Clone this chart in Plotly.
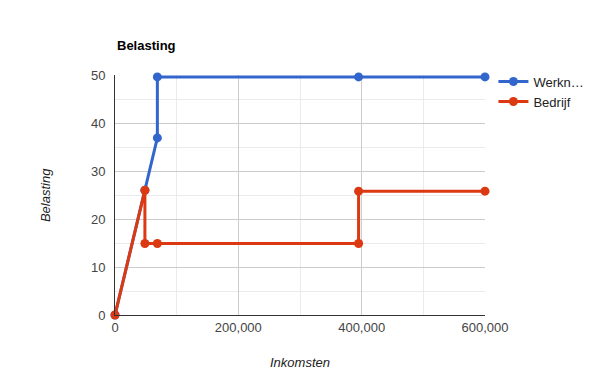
import plotly.graph_objects as go

# Data
werkn_x = [0, 48500, 68700, 68700, 395000, 600000]
werkn_y = [0, 26.0, 36.9, 49.6, 49.6, 49.6]
bedrijf_x = [0, 48500, 48500, 68700, 395000, 395000, 600000]
bedrijf_y = [0, 26.0, 14.9, 14.9, 14.9, 25.8, 25.8]

x_ticks = [0, 200000, 400000, 600000]
x_tick_labels = ["0", "200,000", "400,000", "600,000"]
y_ticks = [0, 10, 20, 30, 40, 50]

FONT = "Arial, Liberation Sans, sans-serif"
BLUE = "#3366cc"
RED = "#dc3912"

fig = go.Figure()
fig.add_trace(go.Scatter(x=werkn_x, y=werkn_y, mode="lines+markers", name="Werkn…",
                         line=dict(color=BLUE, width=3), marker=dict(color=BLUE, size=9),
                         cliponaxis=False))
fig.add_trace(go.Scatter(x=bedrijf_x, y=bedrijf_y, mode="lines+markers", name="Bedrijf",
                         line=dict(color=RED, width=3), marker=dict(color=RED, size=9),
                         cliponaxis=False))

fig.update_layout(
    width=600, height=390,
    margin=dict(l=115, r=114, t=75, b=75),
    paper_bgcolor="white", plot_bgcolor="white",
    font=dict(family=FONT, size=13, color="#444"),
    showlegend=True,
    legend=dict(x=1.02, y=1.035, xanchor="left", yanchor="top",
                font=dict(family=FONT, size=13, color="#222"),
                bgcolor="rgba(0,0,0,0)", tracegroupgap=2, itemwidth=30),
    xaxis=dict(range=[0, 600000], tickvals=x_ticks, ticktext=x_tick_labels,
               showgrid=True, gridcolor="#cccccc", gridwidth=1,
               minor=dict(dtick=100000, showgrid=True, gridcolor="#ebebeb"),
               showline=True, linecolor="#333", linewidth=1, zeroline=False,
               ticks="", tickfont=dict(size=13, color="#444")),
    yaxis=dict(range=[0, 50], tickvals=y_ticks,
               showgrid=True, gridcolor="#cccccc", gridwidth=1,
               minor=dict(dtick=5, showgrid=True, gridcolor="#ebebeb"),
               showline=True, linecolor="#333", linewidth=1, zeroline=False,
               ticks="", ticklabelstandoff=6, tickfont=dict(size=13, color="#444")),
    annotations=[
        dict(text="<b>Belasting</b>", x=0, xref="paper", y=1.121, yref="paper",
             xanchor="left", yanchor="middle", showarrow=False,
             font=dict(family=FONT, size=13, color="#000")),
        dict(text="<i>Inkomsten</i>", x=0.5, xref="paper", y=-0.196, yref="paper",
             xanchor="center", yanchor="middle", showarrow=False,
             font=dict(family=FONT, size=13, color="#222")),
        dict(text="<i>Belasting</i>", x=-0.189, xref="paper", y=0.5, yref="paper",
             xanchor="center", yanchor="middle", showarrow=False, textangle=-90,
             font=dict(family=FONT, size=13, color="#222")),
    ],
)

fig.write_html("out.html", config={"displayModeBar": False},
               post_script="document.body.style.margin='0';document.body.style.padding='0';")
